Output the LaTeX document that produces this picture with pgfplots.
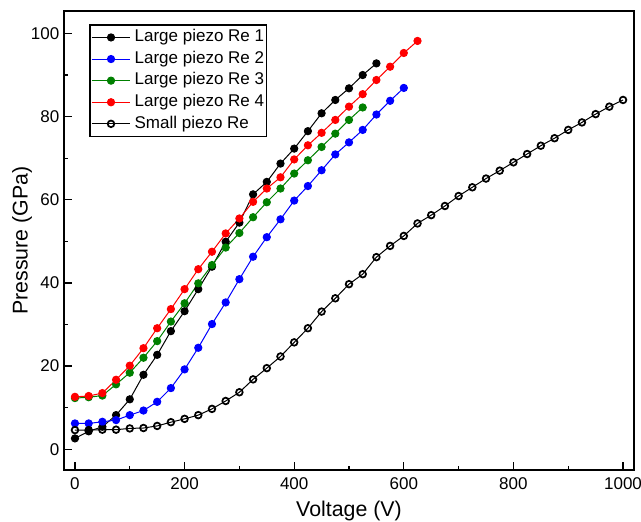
\documentclass[border=0pt]{standalone}
\usepackage{pgfplots}
\pgfplotsset{compat=1.18}
\usepackage{fontspec}
\setmainfont{Liberation Sans}
\definecolor{ogreen}{RGB}{0,128,0}
\begin{document}
\begin{tikzpicture}
\begin{axis}[
  scale only axis,
  width=427.5pt, height=344.25pt,
  xmin=-20, xmax=1020, ymin=-5, ymax=105.4,
  xtick={0,200,...,1000}, ytick={0,20,...,100},
  minor x tick num=1, minor y tick num=1,
  tick pos=left, tick align=inside,
  major tick length=6.25pt, minor tick length=3.2pt,
  every tick/.style={black, line width=0.9pt},
  axis line style={line width=1.3pt},
  /pgf/number format/assume math mode=true,
  /pgf/number format/1000 sep={},
  ticklabel style={font=\fontsize{12.75}{14}\selectfont},
  xticklabel style={yshift=-2.4pt},
  xlabel={Voltage (V)}, ylabel={Pressure (GPa)},
  label style={font=\fontsize{16}{18}\selectfont},
  x label style={at={(axis description cs:0.5,-0.0893)}, anchor=center},
  y label style={at={(axis description cs:-0.0737,0.5)}, anchor=center, rotate=0},
  legend cell align=left,
  legend image code/.code={\draw[mark repeat=2,mark phase=2,#1] plot coordinates {(0pt,0pt) (14.6pt,0pt) (29.2pt,0pt)};},
  legend style={at={(axis description cs:0.0444,0.971)}, anchor=north west,
    draw=black, line width=1pt, inner xsep=0.8pt, inner ysep=1.25pt,
    column sep=1.75pt,
    font=\fontsize{12.75}{14}\selectfont,
    nodes={inner xsep=1pt, inner ysep=1.7pt, text height=9.6pt, text depth=3.2pt}},
  every axis plot/.append style={line width=0.75pt},
]
\addplot[black, mark=*, mark size=2.7pt] coordinates {
(0,2.6) (25,4.3) (50,5.4) (75,8.2) (100,12.0) (125,17.9) (150,22.7) (175,28.4)
(200,33.2) (225,38.5) (250,43.9) (275,49.9) (300,54.5) (325,61.3) (350,64.3)
(375,68.7) (400,72.3) (425,76.5) (450,80.8) (475,84.0) (500,86.8) (525,90.0) (550,92.8)};
\addlegendentry{Large piezo Re 1}
\addplot[blue, mark=*, mark size=2.7pt] coordinates {
(0,6.2) (25,6.2) (50,6.6) (75,7.0) (100,8.2) (125,9.3) (150,11.4) (175,14.7)
(200,19.2) (225,24.4) (250,30.1) (275,35.3) (300,40.9) (325,46.3) (350,51.0)
(375,55.3) (400,59.8) (425,63.3) (450,67.1) (475,70.9) (500,73.8) (525,76.8)
(550,80.5) (575,83.8) (600,86.9)};
\addlegendentry{Large piezo Re 2}
\addplot[ogreen, mark=*, mark size=2.7pt] coordinates {
(0,12.3) (25,12.5) (50,12.9) (75,15.6) (100,18.4) (125,22.0) (150,26.0) (175,30.7)
(200,35.1) (225,39.9) (250,44.3) (275,48.5) (300,52.0) (325,55.8) (350,59.4)
(375,62.7) (400,66.3) (425,69.5) (450,72.7) (475,75.9) (500,79.2) (525,82.2)};
\addlegendentry{Large piezo Re 3}
\addplot[red, mark=*, mark size=2.7pt] coordinates {
(0,12.6) (25,12.8) (50,13.5) (75,16.7) (100,20.1) (125,24.3) (150,29.1) (175,33.7)
(200,38.5) (225,43.3) (250,47.5) (275,51.9) (300,55.5) (325,59.5) (350,62.7)
(375,65.4) (400,69.7) (425,73.1) (450,76.1) (475,79.2) (500,82.4) (525,85.4)
(550,88.8) (575,92.0) (600,95.3) (625,98.2)};
\addlegendentry{Large piezo Re 4}
\addplot[black, mark=o, mark size=2.5pt, mark options={fill=white, line width=1.3pt}] coordinates {
(0,4.6) (25,4.6) (50,4.7) (75,4.7) (100,5.0) (125,5.1) (150,5.6) (175,6.5)
(200,7.3) (225,8.2) (250,9.7) (275,11.6) (300,13.7) (325,16.8) (350,19.5)
(375,22.3) (400,25.7) (425,29.1) (450,33.1) (475,36.3) (500,39.7) (525,42.1)
(550,46.2) (575,48.9) (600,51.3) (625,54.3) (650,56.3) (675,58.5) (700,60.9)
(725,63.0) (750,65.1) (775,67.0) (800,69.0) (825,71.0) (850,73.0) (875,74.8)
(900,76.8) (925,78.6) (950,80.6) (975,82.4) (1000,84.0)};
\addlegendentry{Small piezo Re}
\end{axis}
\pgfresetboundingbox
\path[use as bounding box] ([shift={(-48pt,-38.25pt)}]current axis.south west) rectangle ([shift={(5.25pt,8.25pt)}]current axis.north east);
\end{tikzpicture}
\end{document}
